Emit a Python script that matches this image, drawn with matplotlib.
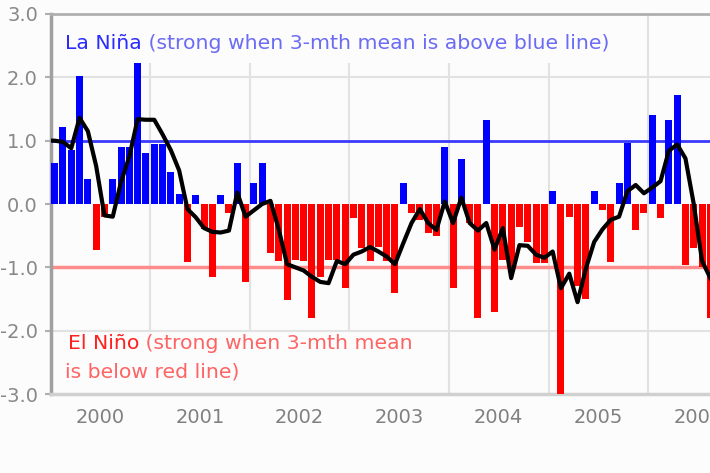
import matplotlib
matplotlib.use('Agg')
import matplotlib.pyplot as plt
import numpy as np
from matplotlib.patches import Rectangle

# ---- data (monthly values from Jan 2000) ----
years = ['2000', '2001', '2002', '2003', '2004', '2005', '2006']
soi = [0.64, 1.22, 0.85, 2.02, 0.40, -0.73, -0.20, 0.40, 0.90, 0.90, 2.22, 0.80,
       0.95, 0.95, 0.50, 0.15, -0.91, 0.14, -0.40, -1.15, 0.14, -0.15, 0.64, -1.23,
       0.33, 0.64, -0.78, -0.90, -1.52, -0.88, -0.90, -1.80, -1.15, -0.88, -0.88, -1.33,
       -0.22, -0.70, -0.90, -0.68, -0.90, -1.41, 0.33, -0.15, -0.25, -0.46, -0.50, 0.90,
       -1.33, 0.71, -0.30, -1.80, 1.33, -1.70, -0.88, -1.00, -0.36, -0.60, -0.93, -0.93,
       0.20, -3.05, -0.20, -1.30, -1.50, 0.20, -0.10, -0.91, 0.33, 0.97, -0.41, -0.15,
       1.41, -0.22, 1.33, 1.72, -0.96, -0.70, -1.00, -1.80]
# 3-month mean line, starting Dec 1999
mean3 = [1.00,
         1.00, 0.98, 0.88, 1.36, 1.15, 0.60, -0.18, -0.20, 0.35, 0.75, 1.34, 1.33,
         1.33, 1.10, 0.85, 0.53, -0.08, -0.21, -0.38, -0.44, -0.45, -0.42, 0.18, -0.20,
         -0.10, 0.00, 0.05, -0.40, -0.95, -1.00, -1.05, -1.15, -1.23, -1.25, -0.90, -0.95,
         -0.80, -0.75, -0.68, -0.75, -0.83, -0.95, -0.62, -0.30, -0.08, -0.30, -0.41, 0.04,
         -0.30, 0.10, -0.30, -0.42, -0.30, -0.72, -0.38, -1.17, -0.65, -0.66, -0.80, -0.85,
         -0.75, -1.33, -1.10, -1.55, -1.02, -0.60, -0.40, -0.25, -0.20, 0.20, 0.30, 0.17,
         0.26, 0.36, 0.84, 0.94, 0.72, 0.00, -0.90, -1.17]
y_ticks = [3, 2, 1, 0, -1, -2, -3]
y_labels = ['3.0', '2.0', '1.0', '0.0', '-1.0', '-2.0', '-3.0']

BG = '#fcfcfc'
fig = plt.figure(figsize=(7.1, 4.73), dpi=100, facecolor=BG)
ax = fig.add_axes([50.5 / 710, 79 / 473, 84 * 8.3 / 710, 380 / 473])
ax.set_facecolor(BG)

x = np.arange(len(soi)) + 0.5
colors = ['#0000ff' if v >= 0 else '#ff0000' for v in soi]
ax.bar(x, soi, width=0.84, color=colors, linewidth=0, zorder=3)

xl = np.arange(-1, len(soi)) + 0.5
ax.plot(xl, mean3, color='black', lw=3, zorder=4, solid_joinstyle='round')

ax.axhline(1, color='#3a3aff', lw=2, zorder=2)
ax.axhline(-1, color='#ff8c8c', lw=2.5, zorder=2)
for v in (2, -2):
    ax.axhline(v, color='#e2e2e2', lw=1.5, zorder=1.5)
for k in range(12, 85, 12):
    ax.axvline(k, color='#e2e2e2', lw=1.5, zorder=1)

# text boxes masking the grid
ax.add_patch(Rectangle((0, 2.22), 71.5, 0.78, facecolor=BG, edgecolor='none', zorder=1.2))
ax.add_patch(Rectangle((0, -3), 47.3, 0.98, facecolor=BG, edgecolor='none', zorder=1.2))

fs = 14.7
t1 = ax.text(1.75, 2.54, 'La Niña', color='#2b2bff', fontsize=fs, va='center', ha='left', zorder=6)
ax.annotate(' (strong when 3-mth mean is above blue line)', xy=(1, 0), xycoords=t1,
            va='bottom', ha='left', color='#6b6bf5', fontsize=fs, zorder=6)
t2 = ax.text(2.1, -2.21, 'El Niño', color='#ff2020', fontsize=fs, va='center', ha='left', zorder=6)
ax.annotate(' (strong when 3-mth mean', xy=(1, 0), xycoords=t2,
            va='bottom', ha='left', color='#ff6464', fontsize=fs, zorder=6)
ax.text(1.75, -2.65, 'is below red line)', color='#ff6464', fontsize=fs, va='center', ha='left', zorder=6)

ax.set_xlim(0, 84)
ax.set_ylim(-3, 3)
ax.set_yticks(y_ticks)
ax.set_yticklabels(y_labels)
ax.set_xticks(np.arange(len(years)) * 12 + 6)
ax.set_xticklabels(years)
ax.tick_params(axis='y', length=4, width=1.5, color='#b0b0b0', pad=5,
               labelcolor='#888888', labelsize=14)
ax.tick_params(axis='x', length=0, pad=10, labelcolor='#808080', labelsize=14)

ax.spines['right'].set_visible(False)
ax.spines['top'].set_color('#b0b0b0')
ax.spines['top'].set_linewidth(2)
ax.spines['left'].set_color('#a0a0a0')
ax.spines['left'].set_linewidth(2.5)
ax.spines['bottom'].set_color('#d0d0d0')
ax.spines['bottom'].set_linewidth(2.5)

fig.savefig('out.png', dpi=100, facecolor=BG)
